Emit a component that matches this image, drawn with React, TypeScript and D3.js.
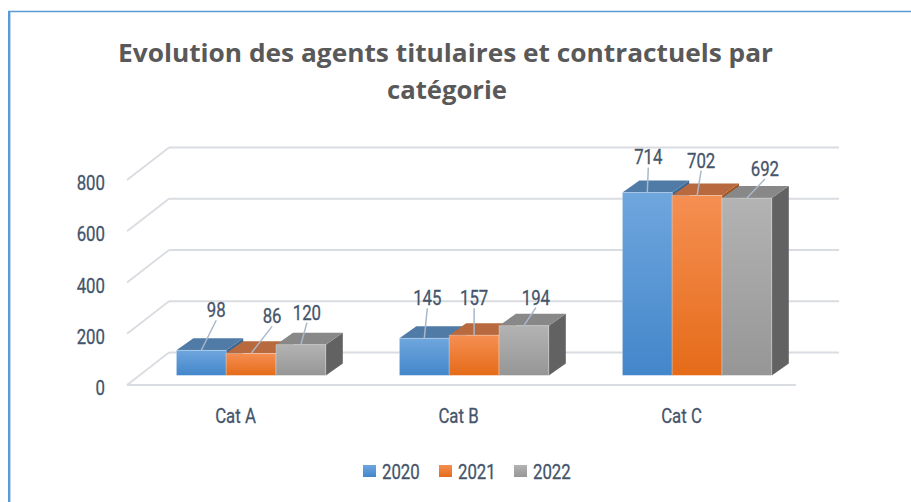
import React from 'react';
import * as d3 from 'd3';

const categories = ['Cat A', 'Cat B', 'Cat C'];
const series = ['2020', '2021', '2022'];
const values2020 = [98, 145, 714];
const values2021 = [86, 157, 702];
const values2022 = [120, 194, 692];
const yTicks = [0, 200, 400, 600, 800];
const titleLines = ['Evolution des agents titulaires et contractuels par', 'catégorie'];

// label placement offsets (relative to front-top centre of each bar), per series
const labelDx2020 = [15, 3, 1];
const labelDy2020 = [-40, -40, -35];
const labelDx2021 = [21, 0, 4];
const labelDy2021 = [-37, -37, -35];
const labelDx2022 = [6, 12, 18];
const labelDy2022 = [-32, -28, -29];

const W = 911;
const H = 502;
const frontX0 = 127;
const frontX1 = 796;
const frontY0 = 385;
const plotH = 205;
const depth = { dx: 42, dy: -32.5 };
const barShift = { dx: 12.6, dy: -9.6 };
const barDepth = { dx: 17, dy: -12 };

const seriesValues = [values2020, values2021, values2022];
const seriesDx = [labelDx2020, labelDx2021, labelDx2022];
const seriesDy = [labelDy2020, labelDy2021, labelDy2022];

const colors = [
  { top: '#6FA6DE', bottom: '#4386CA', lid: '#4F7BA6', side: '#3C6893' },
  { top: '#F58F52', bottom: '#E56B19', lid: '#B8693D', side: '#A0521F' },
  { top: '#B3B3B3', bottom: '#969696', lid: '#888888', side: '#626262' },
];

const labelColor = '#44546A';
const gridColor = '#D9DCE1';
const condensed = 0.8;

export default function App() {
  const y = d3.scaleLinear().domain([0, 800]).range([0, plotH]);
  const x = d3
    .scaleBand<string>()
    .domain(categories)
    .range([frontX0, frontX1])
    .paddingInner(0.33)
    .paddingOuter(0.165);
  const inner = d3.scaleBand<string>().domain(series).range([0, x.bandwidth()]);

  const bars: any[] = [];
  categories.forEach((c, ci) => {
    series.forEach((s, si) => {
      const v = seriesValues[si][ci];
      const bx = (x(c) as number) + (inner(s) as number) + barShift.dx;
      const w = inner.bandwidth();
      const bottom = frontY0 + barShift.dy;
      const top = bottom - y(v);
      bars.push({ c, s, ci, si, v, bx, w, bottom, top });
    });
  });

  const pts = (arr: number[][]) => arr.map((p) => p.join(',')).join(' ');

  const ctext = (
    key: string,
    tx: number,
    ty: number,
    str: string,
    size: number,
    anchor: string,
    fill: string
  ) => (
    <text
      key={key}
      transform={`translate(${tx},${ty}) scale(${condensed},1)`}
      textAnchor={anchor}
      fontFamily="Roboto, 'Noto Sans', sans-serif"
      fontSize={size}
      fill={fill}
      stroke={fill}
      strokeWidth={0.3}
    >
      {str}
    </text>
  );

  const legendX = [363, 439, 514];

  return (
    <svg
      width={W}
      height={H}
      style={{ position: 'absolute', left: 0, top: 0, display: 'block', background: '#fff' }}
    >
      <defs>
        {colors.map((col, i) => (
          <linearGradient key={i} id={`g${i}`} x1="0" y1="0" x2="0" y2="1">
            <stop offset="0" stopColor={col.top} />
            <stop offset="1" stopColor={col.bottom} />
          </linearGradient>
        ))}
      </defs>

      {/* frame */}
      <line x1={9.2} y1={11} x2={9.2} y2={H} stroke="#5B9BD5" strokeWidth={2.4} />
      <line x1={8} y1={11.5} x2={W} y2={11.5} stroke="#5B9BD5" strokeWidth={1.5} />

      {/* title */}
      <text
        x={445.5}
        y={62}
        textAnchor="middle"
        fontFamily="'Open Sans', Lato, sans-serif"
        fontWeight="bold"
        fontSize={25}
        fill="#595959"
        textLength={655}
        lengthAdjust="spacingAndGlyphs"
      >
        {titleLines[0]}
      </text>
      <text
        x={447}
        y={99}
        textAnchor="middle"
        fontFamily="'Open Sans', Lato, sans-serif"
        fontWeight="bold"
        fontSize={25}
        fill="#595959"
        textLength={120}
        lengthAdjust="spacingAndGlyphs"
      >
        {titleLines[1]}
      </text>

      {/* gridlines */}
      {yTicks.map((t) => {
        const yf = frontY0 - y(t);
        return (
          <g key={t}>
            <line
              x1={frontX0}
              y1={yf}
              x2={frontX0 + depth.dx}
              y2={yf + depth.dy}
              stroke={gridColor}
              strokeWidth={1.8}
            />
            <line
              x1={frontX0 + depth.dx}
              y1={yf + depth.dy}
              x2={frontX1 + depth.dx + 1}
              y2={yf + depth.dy}
              stroke={gridColor}
              strokeWidth={1.8}
            />
            {t === 0 && (
              <line x1={frontX0} y1={yf} x2={frontX1} y2={yf} stroke={gridColor} strokeWidth={1.8} />
            )}
            {ctext(`yl${t}`, 105, yf + 10, String(t), 21, 'end', labelColor)}
          </g>
        );
      })}

      {/* bars */}
      {bars.map((b) => {
        const col = colors[b.si];
        const { bx, w, top, bottom } = b;
        const d = barDepth;
        return (
          <g key={`${b.c}-${b.s}`}>
            <polygon
              points={pts([
                [bx + w, top],
                [bx + w + d.dx, top + d.dy],
                [bx + w + d.dx, bottom + d.dy],
                [bx + w, bottom],
              ])}
              fill={col.side}
            />
            <polygon
              points={pts([
                [bx, top],
                [bx + d.dx, top + d.dy],
                [bx + w + d.dx, top + d.dy],
                [bx + w, top],
              ])}
              fill={col.lid}
            />
            <rect
              x={bx}
              y={top}
              width={w}
              height={bottom - top}
              fill={`url(#g${b.si})`}
              stroke="rgba(255,255,255,0.35)"
              strokeWidth={0.8}
            />
          </g>
        );
      })}

      {/* data labels */}
      {bars.map((b) => {
        const cx = b.bx + b.w / 2;
        const lx = cx + seriesDx[b.si][b.ci];
        const ly = b.top + seriesDy[b.si][b.ci];
        return (
          <g key={`lab-${b.c}-${b.s}`}>
            <line x1={lx} y1={ly + 10} x2={cx} y2={b.top} stroke="#A9B8CB" strokeWidth={1.5} />
            {ctext(`t-${b.c}-${b.s}`, lx, ly + 7, String(b.v), 21, 'middle', labelColor)}
          </g>
        );
      })}

      {/* category labels */}
      {categories.map((c) =>
        ctext(`c-${c}`, (x(c) as number) + x.bandwidth() / 2 - 3, 423, c, 21, 'middle', labelColor)
      )}

      {/* legend */}
      {series.map((s, i) => (
        <g key={`lg-${s}`}>
          <rect x={legendX[i]} y={465} width={13} height={12} fill={`url(#g${i})`} />
          {ctext(`lt-${s}`, legendX[i] + 19, 479, s, 21, 'start', labelColor)}
        </g>
      ))}
    </svg>
  );
}
